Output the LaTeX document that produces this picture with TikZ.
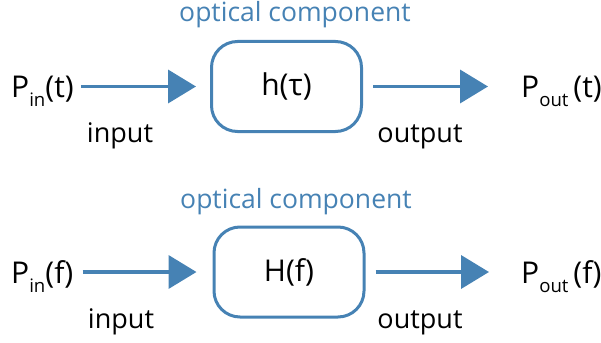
\documentclass[tikz,border=0pt]{standalone}
\usepackage{fontspec}
\setmainfont{Open Sans}
\usetikzlibrary{arrows.meta}

\definecolor{optblue}{RGB}{70,130,180}
\newcommand{\lowsub}[1]{\raisebox{-0.32em}{\scalebox{0.62}{#1}}}

\begin{document}
\begin{tikzpicture}[x=1pt,y=-1pt,
  txt/.style={inner sep=0pt,anchor=base west,font=\fontsize{30}{33}\selectfont},
  lbl/.style={inner sep=0pt,anchor=base,font=\fontsize{27}{30}\selectfont},
  comp/.style={inner sep=0pt,anchor=base,text=optblue,font=\fontsize{26.5}{30}\selectfont},
  block/.style={draw=optblue,line width=3pt,rounded corners=26pt,minimum width=150pt,minimum height=90pt,font=\fontsize{30}{33}\selectfont},
  flow/.style={draw=optblue,line width=3.8pt,-{Triangle[length=28pt,width=33pt]}}]

\useasboundingbox (0,0) rectangle (601,342);

% time domain
\node[comp] (comp1) at (295,22) {optical component};
\node[block] (box1) at (286.5,86.5) {h(τ)};
\node[txt] (pin1) at (11,97) {P\lowsub{in}(t)};
\node[txt] (pout1) at (521,97) {P\lowsub{out}\,(t)};

\draw[flow,shorten <=7pt,shorten >=14pt] (box1.west -| pin1.east) -- (box1.west);
\draw[flow,shorten <=10pt,shorten >=33pt] (box1.east) -- (box1.east -| pout1.west);

\node[lbl] (in1) at (120,142) {input};
\node[lbl] (out1) at (420,142) {output};

% frequency domain
\node[comp] (comp2) at (296,208) {optical component};
\node[block] (box2) at (289,272) {H(f)};
\node[txt] (pin2) at (11,283) {P\lowsub{in}(f)};
\node[txt] (pout2) at (521,283) {P\lowsub{out}\,(f)};

\draw[flow,shorten <=9pt,shorten >=16pt] (box2.west -| pin2.east) -- (box2.west);
\draw[flow,shorten <=10pt,shorten >=32pt] (box2.east) -- (box2.east -| pout2.west);

\node[lbl] (in2) at (121,328) {input};
\node[lbl] (out2) at (420,328) {output};

\end{tikzpicture}
\end{document}
